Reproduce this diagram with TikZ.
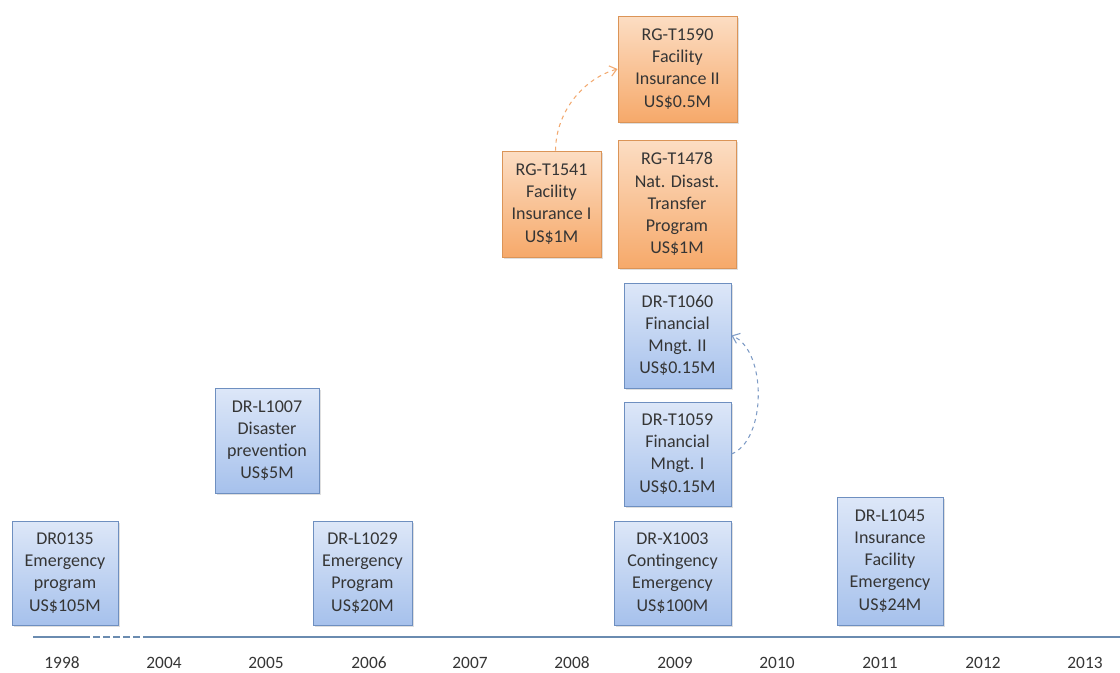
\documentclass[tikz,border=0pt]{standalone}
\usepackage{fontspec}
\setmainfont{Carlito}
\usetikzlibrary{arrows.meta,shadows}
\definecolor{bluetop}{HTML}{DDE7F8}
\definecolor{bluebot}{HTML}{A6C1EC}
\definecolor{blueedge}{HTML}{6E8FC0}
\definecolor{orgtop}{HTML}{FCDDC3}
\definecolor{orgbot}{HTML}{F6A96A}
\definecolor{orgedge}{HTML}{DB9457}
\definecolor{txt}{HTML}{353535}
\definecolor{axis}{HTML}{6A8BB0}
\definecolor{orgarrow}{HTML}{F2A970}
\definecolor{bluearrow}{HTML}{7F9CC6}
\tikzset{
  pbox/.style={draw, line width=0.7pt, align=center, text=txt, inner sep=0pt,
    font=\fontsize{13.5}{16.6}\selectfont,
    drop shadow={shadow xshift=1.2pt, shadow yshift=-1.5pt, opacity=0.25}},
  bluebox/.style={pbox, draw=blueedge, top color=bluetop, bottom color=bluebot},
  orgbox/.style={pbox, draw=orgedge, top color=orgtop, bottom color=orgbot},
  sz/.style 2 args={minimum width=#1*0.75pt, minimum height=#2*0.75pt},
  year/.style={text=txt, font=\fontsize{13}{15}\selectfont},
  tline/.style={draw=axis, line width=0.8pt},
}
\begin{document}
\begin{tikzpicture}[x=0.75pt,y=-0.75pt]
\useasboundingbox (0,0) rectangle (1120,672);
% boxes
\node[bluebox, sz={106}{104}] (dr0135) at (65,573) {DR0135\\Emergency\\program\\US\$105M};
\node[bluebox, sz={99}{104}] (drl1029) at (362.5,573) {DR-L1029\\Emergency\\Program\\US\$20M};
\node[bluebox, sz={104}{105}] (drl1007) at (267,440.5) {DR-L1007\\Disaster\\prevention\\US\$5M};
\node[bluebox, sz={117}{104}] (drx1003) at (672.5,573) {DR-X1003\\Contingency\\Emergency\\US\$100M};
\node[bluebox, sz={106}{128}] (drl1045) at (890,561) {DR-L1045\\Insurance\\Facility\\Emergency\\US\$24M};
\node[bluebox, sz={107}{104}] (drt1059) at (677.5,454) {DR-T1059\\Financial\\Mngt. I\\US\$0.15M};
\node[bluebox, sz={107}{105}] (drt1060) at (677.5,335.5) {DR-T1060\\Financial\\Mngt. II\\US\$0.15M};
\node[orgbox, sz={99}{106}] (rgt1541) at (551.5,204) {RG-T1541\\Facility\\Insurance I\\US\$1M};
\node[orgbox, sz={118}{128}] (rgt1478) at (677,204) {RG-T1478\\Nat. Disast.\\Transfer\\Program\\US\$1M};
\node[orgbox, sz={119}{106}] (rgt1590) at (677.5,69) {RG-T1590\\Facility\\Insurance II\\US\$0.5M};
% connectors
\draw[orgarrow, dashed, line width=0.8pt, -{Straight Barb[length=5pt,width=8pt]}]
  ([xshift=3pt]rgt1541.north) .. controls (556,110) and (585,78) .. (rgt1590.west);
\draw[bluearrow, dashed, line width=0.8pt, -{Straight Barb[length=5pt,width=8pt]}]
  (drt1059.east) .. controls (767,440) and (767,350) .. (drt1060.east);
% timeline
\coordinate (a0) at (33,637);
\coordinate (a1) at (90,637);
\coordinate (b0) at (93,637);
\coordinate (b1) at (140,637);
\coordinate (c0) at (143,637);
\coordinate (c1) at (1120,637);
\draw[tline] (a0) -- (a1);
\draw[tline, dash pattern=on 5pt off 2.5pt] (b0) -- (b1);
\draw[tline] (c0) -- (c1);
% years
\node[year] (y1998) at (62,663) {1998};
\node[year] (y2004) at (164,663) {2004};
\node[year] (y2005) at (266,663) {2005};
\node[year] (y2006) at (369,663) {2006};
\node[year] (y2007) at (470,663) {2007};
\node[year] (y2008) at (572,663) {2008};
\node[year] (y2009) at (675,663) {2009};
\node[year] (y2010) at (777,663) {2010};
\node[year] (y2011) at (880,663) {2011};
\node[year] (y2012) at (983,663) {2012};
\node[year] (y2013) at (1085,663) {2013};
\end{tikzpicture}
\end{document}
